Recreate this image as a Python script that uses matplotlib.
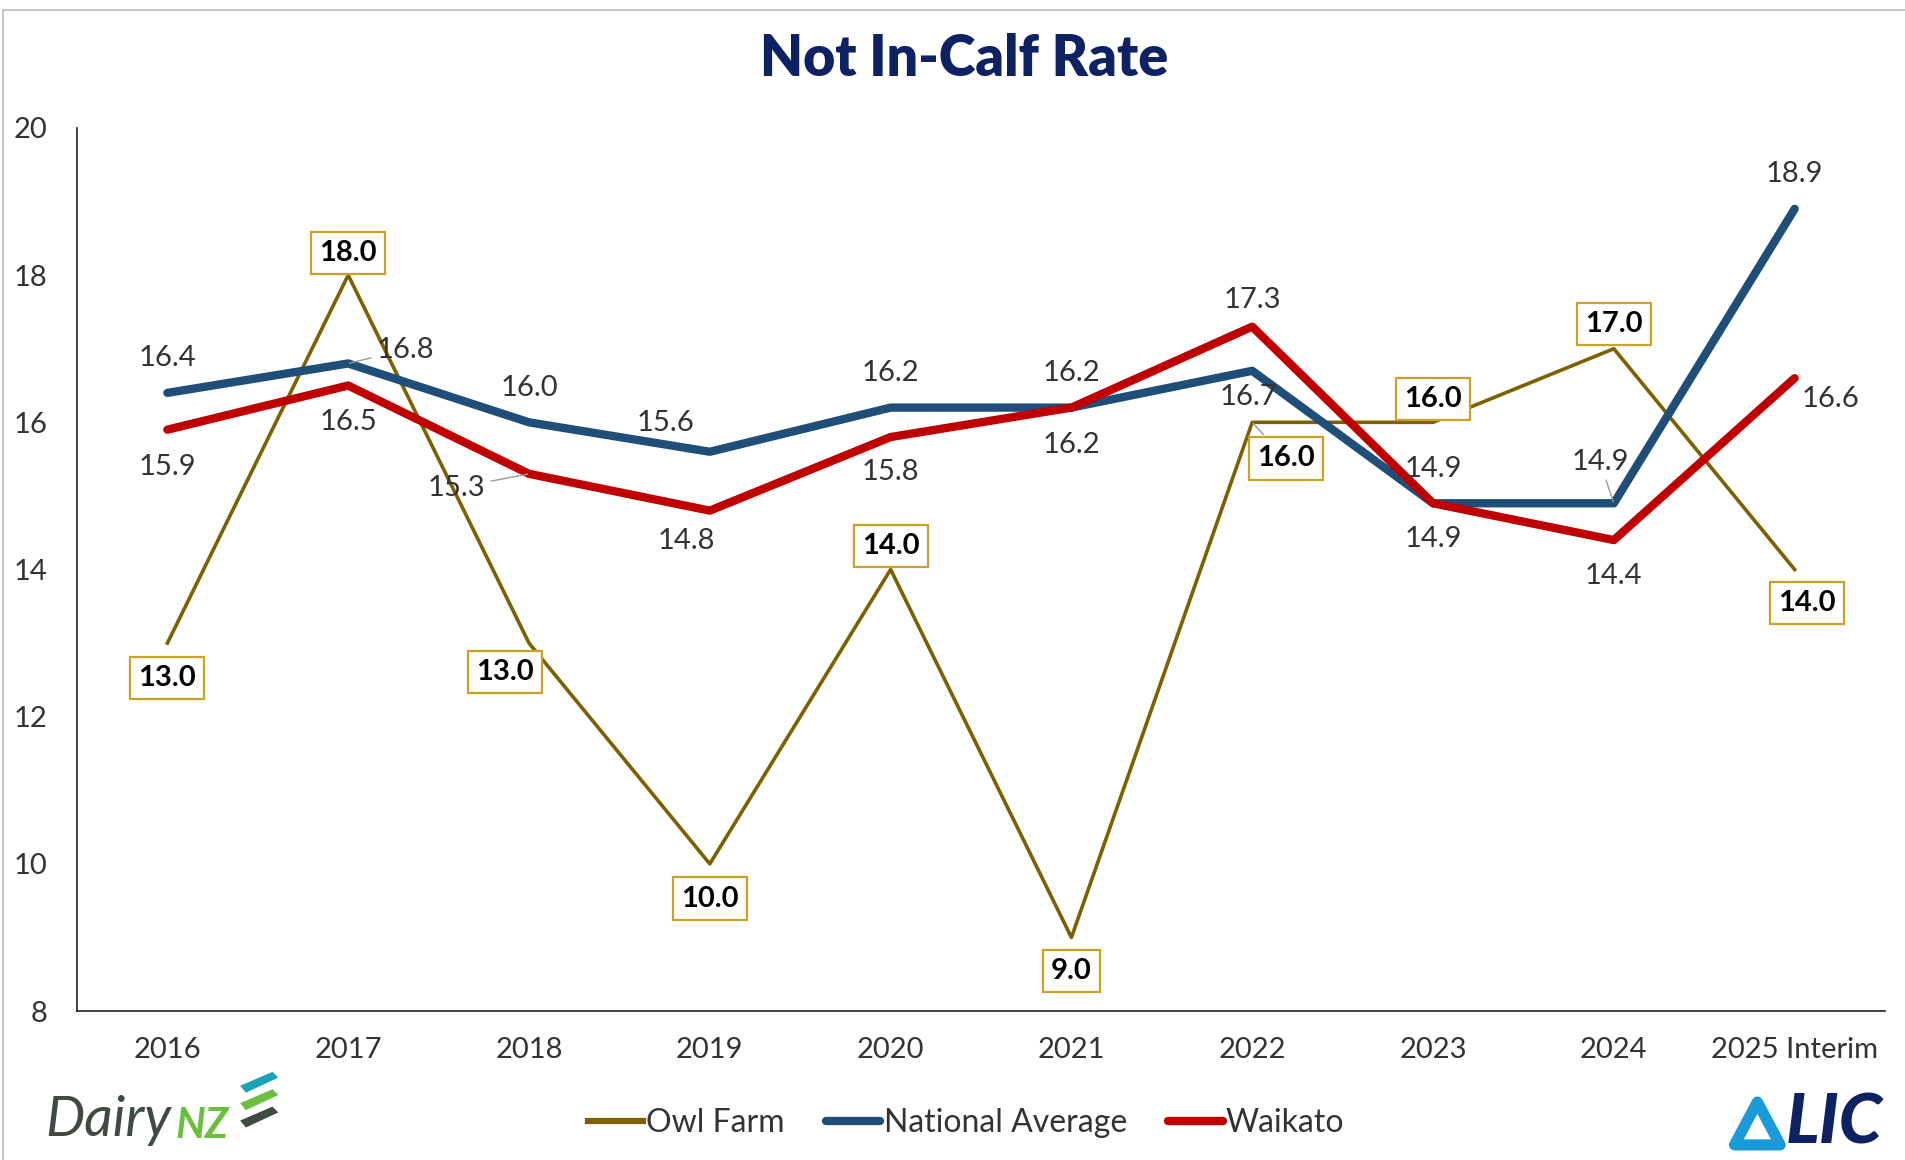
import matplotlib
matplotlib.use("Agg")
import matplotlib.pyplot as plt
from matplotlib.patches import Rectangle, Polygon

years = ["2016", "2017", "2018", "2019", "2020", "2021", "2022", "2023", "2024", "2025 Interim"]
owl_farm = [13.0, 18.0, 13.0, 10.0, 14.0, 9.0, 16.0, 16.0, 17.0, 14.0]
national = [16.4, 16.8, 16.0, 15.6, 16.2, 16.2, 16.7, 14.9, 14.9, 18.9]
waikato = [15.9, 16.5, 15.3, 14.8, 15.8, 16.2, 17.3, 14.9, 14.4, 16.6]

# where each data label sits relative to its point (points, dy up)
owl_off = [(0, -25), (0, 16), (-17, -21), (0, -25), (0, 17), (0, -24), (24, -26), (0, 17), (0, 18), (9, -24)]
nat_off = [(0, 25), (41, 10), (0, 25), (-32, 21), (0, 25), (0, 25), (-3, -19), (0, 25), (-10, 30), (0, 25)]
wai_off = [(0, -27), (0, -26), (-52, -10), (-17, -22), (0, -25), (0, -27), (0, 19), (0, -26), (0, -26), (26, -15)]
leaders = [("nat", 1), ("wai", 2), ("owl", 6), ("nat", 8)]

c_owl = "#7f6000"
c_nat = "#1f4e79"
c_wai = "#c00000"
font = "Lato"

plt.rcParams['font.family'] = [font, 'DejaVu Sans']

fig = plt.figure(figsize=(19.06, 11.6), dpi=100)
ax = fig.add_axes([0.0404, 0.1284, 0.9486, 0.7613])

x = list(range(len(years)))
ax.plot(x, owl_farm, color=c_owl, lw=2.6, label="Owl Farm", zorder=3)
ax.plot(x, national, color=c_nat, lw=6, label="National Average", zorder=4, solid_capstyle='round')
ax.plot(x, waikato, color=c_wai, lw=6, label="Waikato", zorder=5, solid_capstyle='round')


def put_labels(vals, offs, key, bold=False):
    for i, v in enumerate(vals):
        kw = {}
        if bold:
            kw['bbox'] = dict(boxstyle='square,pad=0.28', fc='white', ec='#c9a227', lw=1.6)
        if (key, i) in leaders:
            kw['arrowprops'] = dict(arrowstyle='-', color='#9a9a9a', lw=1.0,
                                    shrinkA=2, shrinkB=1)
        ax.annotate("%.1f" % v, (i, v), xytext=offs[i], textcoords='offset points',
                    ha='center', va='center', fontsize=21,
                    fontweight='bold' if bold else 'normal',
                    color='black' if bold else '#333333', zorder=6, **kw)


put_labels(owl_farm, owl_off, "owl", bold=True)
put_labels(national, nat_off, "nat")
put_labels(waikato, wai_off, "wai")

ax.set_xlim(-0.5, len(years) - 0.5)
ax.set_ylim(8, 20)
ax.set_yticks(range(8, 21, 2))
ax.set_xticks(x)
ax.set_xticklabels(years)
ax.tick_params(axis='both', length=0, labelsize=21, colors='#333333')
ax.tick_params(axis='x', pad=19)
ax.tick_params(axis='y', pad=21)
for s in ['top', 'right']:
    ax.spines[s].set_visible(False)
for s in ['left', 'bottom']:
    ax.spines[s].set_color('#222222')
    ax.spines[s].set_linewidth(1.2)

fig.text(0.506, 0.949, "Not In-Calf Rate", ha='center', va='center', fontsize=40,
         fontweight='heavy', color='#0d2163')

leg = fig.legend(loc='center', bbox_to_anchor=(0.507, 0.032), ncol=3, frameon=False,
                 fontsize=23, handlelength=1.7, handletextpad=0.1, columnspacing=1.3)
for t in leg.get_texts():
    t.set_color('#333333')
leg.get_lines()[0].set_linewidth(4.5)

# DairyNZ logo (approximation)
fig.text(0.024, 0.034, "Dairy", fontsize=40, style='italic', color='#3f4a40', va='center')
fig.text(0.092, 0.029, "NZ", fontsize=30, fontweight='bold', style='italic', color='#6abf3f', va='center')
for col, yy in [('#1ba3b5', 0.068), ('#6abf3f', 0.053), ('#3f4a40', 0.038)]:
    fig.patches.append(Polygon([(0.126, yy - 0.004), (0.143, yy + 0.008), (0.146, yy + 0.003),
                                (0.129, yy - 0.010)], closed=True, transform=fig.transFigure,
                               fc=col, ec='none'))

# LIC logo (approximation)
fig.patches.append(Polygon([(0.910, 0.013), (0.922, 0.050), (0.934, 0.013)], closed=True,
                           transform=fig.transFigure, fc='none', ec='#1a9ad6', lw=8,
                           joinstyle='round'))
fig.text(0.937, 0.031, "LIC", fontsize=50, fontweight='black', style='italic',
         color='#0d2163', va='center')

# outer border of the screenshot
fig.patches.append(Rectangle((0.0016, -0.01), 1.1, 1.001, transform=fig.transFigure,
                             fc='none', ec='#c8c8c8', lw=1.5))

fig.savefig("out.png", dpi=100)
